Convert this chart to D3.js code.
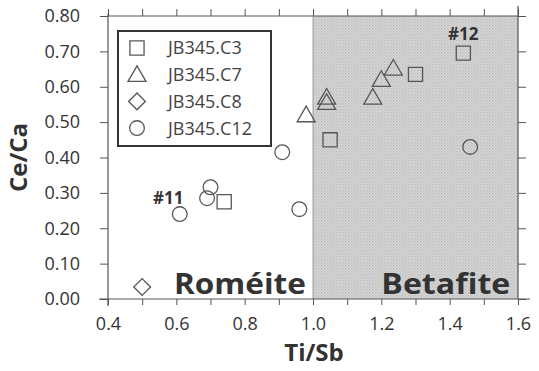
<!DOCTYPE html>
<html>
<head>
<meta charset="utf-8">
<script src="https://cdn.jsdelivr.net/npm/d3@7"></script>
<style>
  body { margin: 0; background: #fff; }
  text { font-family: "Open Sans", "DejaVu Sans", sans-serif; }
</style>
</head>
<body>
<div id="chart"></div>
<script>
// series (Ti/Sb, Ce/Ca)
var c3X = [0.74, 1.05, 1.30, 1.44];
var c3Y = [0.275, 0.45, 0.635, 0.695];
var c7X = [0.98, 1.04, 1.04, 1.175, 1.20, 1.235];
var c7Y = [0.52, 0.57, 0.555, 0.57, 0.62, 0.652];
var c8X = [0.50];
var c8Y = [0.034];
var c12X = [0.61, 0.70, 0.69, 0.91, 0.96, 1.46];
var c12Y = [0.24, 0.316, 0.285, 0.415, 0.254, 0.43];

var seriesNames = ["JB345.C3", "JB345.C7", "JB345.C8", "JB345.C12"];
var xTicks = [0.4, 0.5, 0.6, 0.7, 0.8, 0.9, 1.0, 1.1, 1.2, 1.3, 1.4, 1.5, 1.6];
var yTicks = [0, 0.1, 0.2, 0.3, 0.4, 0.5, 0.6, 0.7, 0.8];
var fieldSplit = 1.0;

var margin = { top: 16, right: 21, bottom: 72, left: 108 };
var W = 539, H = 371;
var width = W - margin.left - margin.right;
var height = H - margin.top - margin.bottom;

var svg = d3.select("#chart").append("svg").attr("width", W).attr("height", H)
  .append("g").attr("transform", "translate(" + margin.left + "," + margin.top + ")");

var x = d3.scaleLinear().domain([0.4, 1.6]).range([0, width]);
var y = d3.scaleLinear().domain([0, 0.8]).range([height, 0]);

// halftone look for the betafite field
var defs = svg.append("defs");
var pat = defs.append("pattern").attr("id", "dots").attr("width", 3).attr("height", 3)
  .attr("patternUnits", "userSpaceOnUse");
pat.append("rect").attr("width", 3).attr("height", 3).attr("fill", "#d9d9d9");
pat.append("rect").attr("width", 1.5).attr("height", 1.5).attr("fill", "#bcbcbc");
pat.append("rect").attr("x", 1.5).attr("y", 1.5).attr("width", 1.5).attr("height", 1.5).attr("fill", "#c8c8c8");

svg.append("rect").attr("x", x(fieldSplit)).attr("y", y(0.8))
  .attr("width", x(1.6) - x(fieldSplit)).attr("height", y(0) - y(0.8))
  .attr("fill", "url(#dots)");

var axisColor = "#555";

// frame: top and right
svg.append("line").attr("x1", 0).attr("x2", width).attr("y1", 0).attr("y2", 0)
  .attr("stroke", axisColor).attr("stroke-width", 1.2);
svg.append("line").attr("x1", width).attr("x2", width).attr("y1", -10).attr("y2", height)
  .attr("stroke", axisColor).attr("stroke-width", 1.2);
svg.append("line").attr("x1", x(fieldSplit)).attr("x2", x(fieldSplit)).attr("y1", 0).attr("y2", height)
  .attr("stroke", "#888").attr("stroke-width", 0.8);

// top ticks pointing up
svg.append("g").call(d3.axisTop(x).tickValues(xTicks).tickSize(7).tickFormat(""))
  .call(g => g.select(".domain").remove())
  .selectAll("line").attr("stroke", axisColor);
// right ticks pointing out
svg.append("g").attr("transform", "translate(" + width + ",0)")
  .call(d3.axisRight(y).tickValues(yTicks).tickSize(8).tickFormat(""))
  .call(g => g.select(".domain").remove())
  .selectAll("line").attr("stroke", axisColor);

// bottom axis
var xAxis = svg.append("g").attr("transform", "translate(0," + height + ")")
  .call(d3.axisBottom(x).tickValues(xTicks).tickSize(6).tickPadding(12)
    .tickFormat(d => Math.round(d * 10) % 2 == 0 ? d3.format(".1f")(d) : ""));
xAxis.select(".domain").remove();
xAxis.append("line").attr("x1", -9).attr("x2", width + 12).attr("y1", 0).attr("y2", 0)
  .attr("stroke", axisColor).attr("stroke-width", 1.2);
xAxis.selectAll(".tick line").attr("stroke", axisColor);
xAxis.selectAll(".tick text").attr("fill", "#333").attr("font-size", 18);

// left axis
var yAxis = svg.append("g")
  .call(d3.axisLeft(y).tickValues(yTicks).tickSize(8).tickPadding(20).tickFormat(d3.format(".2f")));
yAxis.select(".domain").remove();
yAxis.append("line").attr("x1", 0).attr("x2", 0).attr("y1", -2).attr("y2", height + 7)
  .attr("stroke", axisColor).attr("stroke-width", 1.2);
yAxis.selectAll(".tick line").attr("stroke", axisColor);
yAxis.selectAll(".tick text").attr("fill", "#333").attr("font-size", 18);

// axis titles
svg.append("text").attr("transform", `translate(${width / 2 + 1}, ${height + 62})`)
  .style("text-anchor", "middle").attr("font-size", 24).attr("font-weight", "bold")
  .attr("fill", "#333").text("Ti/Sb");
svg.append("text").attr("transform", `translate(${-margin.left + 27}, ${height / 2 + 0}) rotate(-90)`)
  .style("text-anchor", "middle").attr("font-size", 24).attr("font-weight", "bold")
  .attr("fill", "#333").text("Ce/Ca");

// field names
svg.append("text").attr("x", x(0.593)).attr("y", y(0.013)).attr("font-size", 29)
  .attr("font-weight", "bold").attr("fill", "#333").attr("textLength", 132)
  .attr("lengthAdjust", "spacingAndGlyphs").text("Roméite");
svg.append("text").attr("x", x(1.2)).attr("y", y(0.013)).attr("font-size", 29)
  .attr("font-weight", "bold").attr("fill", "#333").attr("textLength", 129)
  .attr("lengthAdjust", "spacingAndGlyphs").text("Betafite");

// sample labels
svg.append("text").attr("x", x(0.532)).attr("y", y(0.285)).attr("dy", "0.35em")
  .attr("font-size", 17).attr("font-weight", "bold").attr("fill", "#333").text("#11");
svg.append("text").attr("x", x(1.395)).attr("y", y(0.75)).attr("dy", "0.35em")
  .attr("font-size", 17).attr("font-weight", "bold").attr("fill", "#333").text("#12");

// markers (diamond = square turned 45 degrees)
var symbols = [d3.symbolSquare, d3.symbolTriangle, d3.symbolSquare, d3.symbolCircle];
var sizes = [200, 140, 140, 170];
var turn = [0, 0, 45, 0];
var shiftY = [0, 1.5, 0, 0];
var markStroke = "#555";

function plot(xs, ys, i) {
  var pts = xs.map((v, k) => ({ x: v, y: ys[k] }));
  svg.selectAll(".s" + i).data(pts).join("path").attr("class", "s" + i)
    .attr("d", d3.symbol().type(symbols[i]).size(sizes[i]))
    .attr("transform", d => `translate(${x(d.x)},${y(d.y) + shiftY[i]}) rotate(${turn[i]})`)
    .attr("fill", "none").attr("stroke", markStroke).attr("stroke-width", 1.3);
}
plot(c12X, c12Y, 3);
plot(c3X, c3Y, 0);
plot(c7X, c7Y, 1);
plot(c8X, c8Y, 2);

// legend
var lg = svg.append("g").attr("transform", "translate(10,15)");
lg.append("rect").attr("width", 153).attr("height", 115).attr("fill", "#fff")
  .attr("stroke", "#333").attr("stroke-width", 2);
seriesNames.forEach((name, i) => {
  var ry = 17 + i * 26.7;
  lg.append("path").attr("d", d3.symbol().type(symbols[i]).size(sizes[i]))
    .attr("transform", `translate(19,${ry + shiftY[i]}) rotate(${turn[i]})`)
    .attr("fill", "none").attr("stroke", markStroke).attr("stroke-width", 1.3);
  lg.append("text").attr("x", 50).attr("y", ry).attr("dy", "0.36em")
    .attr("font-size", 18).attr("fill", "#444").text(name);
});
</script>
</body>
</html>
